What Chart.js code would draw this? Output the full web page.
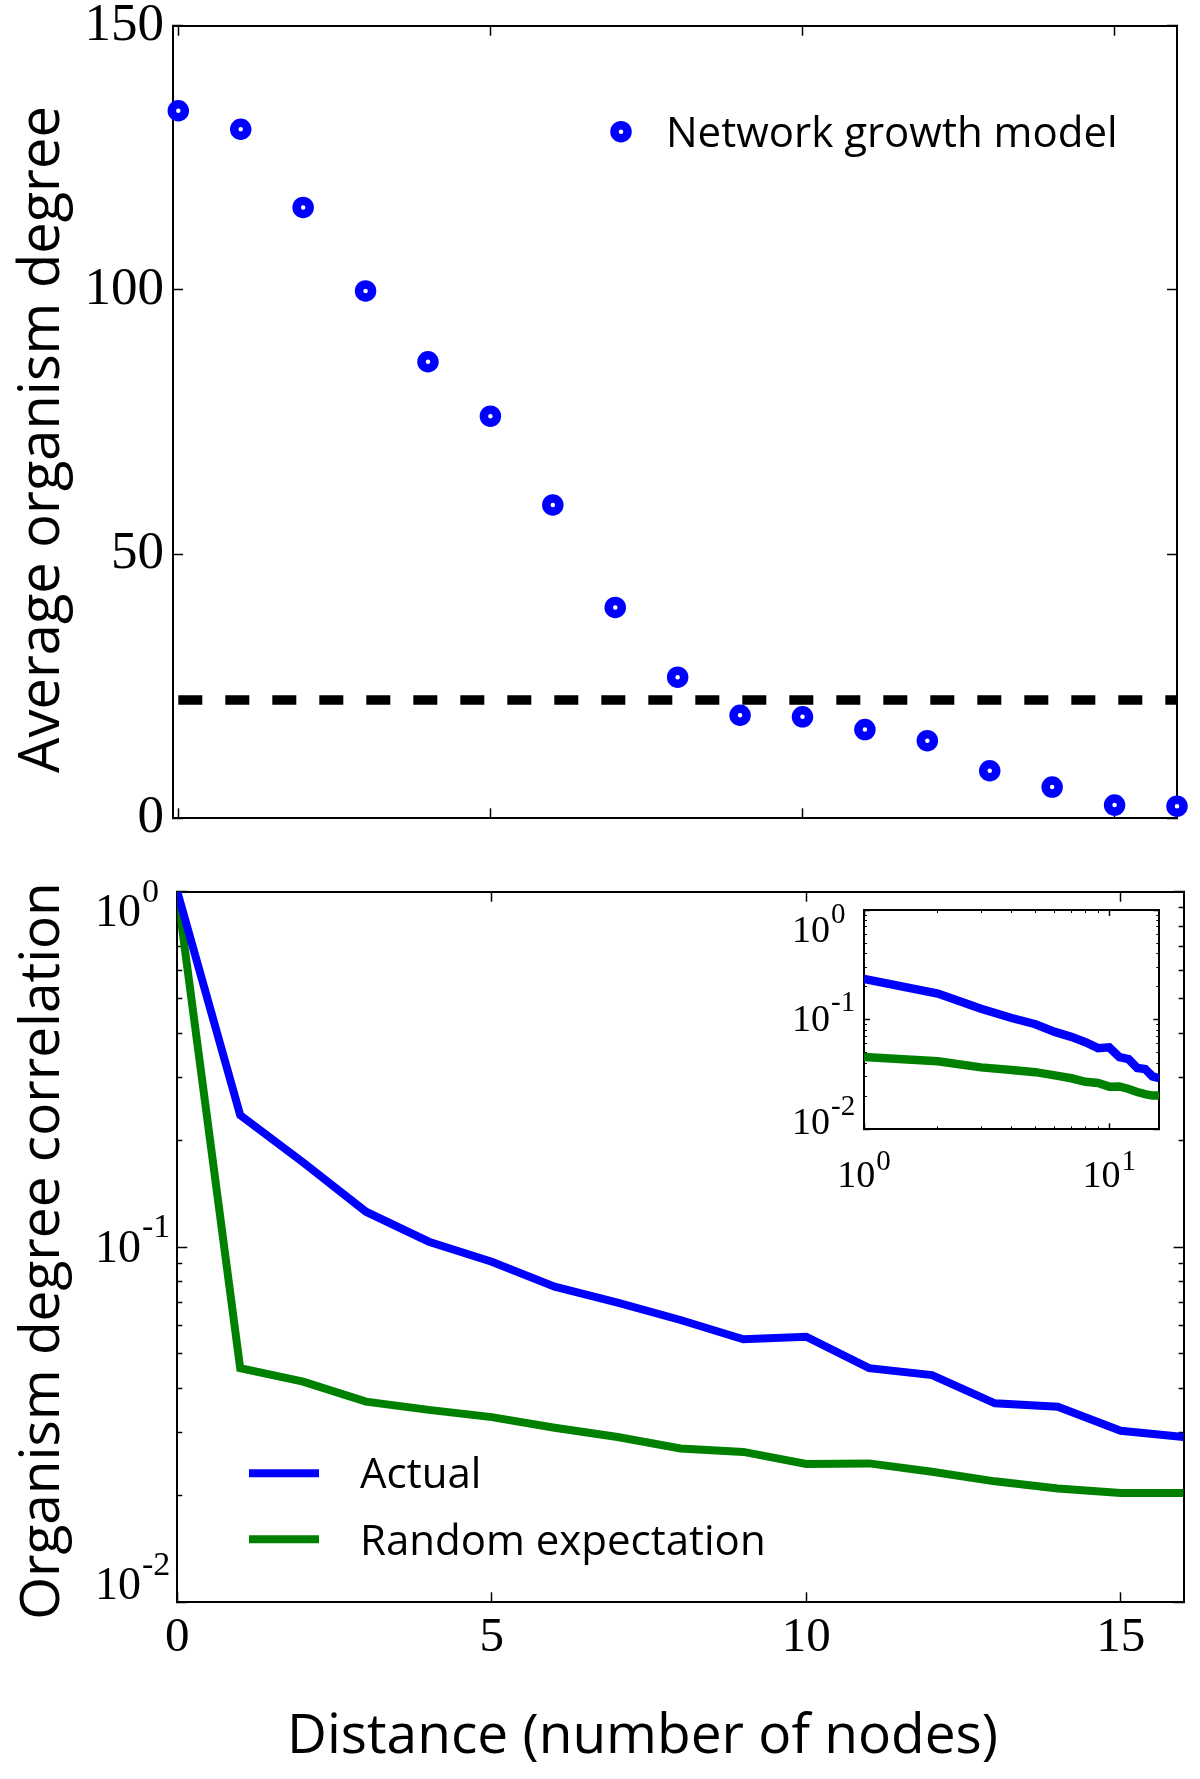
<!DOCTYPE html>
<html>
<head>
<meta charset="utf-8">
<script src="https://cdn.jsdelivr.net/npm/chart.js@4.4.1/dist/chart.umd.min.js"></script>
<style>
html, body { margin: 0; padding: 0; background: #fff; }
#wrap { position: relative; width: 1200px; height: 1779px; overflow: hidden; background: #fff; }
canvas { position: absolute; }
</style>
</head>
<body>
<div id="wrap">
  <canvas id="topChart" width="1200" height="850" style="left:0px;top:0px;width:1200px;height:850px"></canvas>
  <canvas id="bottomChart" width="1200" height="929" style="left:0px;top:850px;width:1200px;height:929px"></canvas>
  <canvas id="insetChart" width="400" height="320" style="left:780px;top:880px;width:400px;height:320px"></canvas>
</div>
<script>
// ---------------- DATA ----------------
const distance = [0, 1, 2, 3, 4, 5, 6, 7, 8, 9, 10, 11, 12, 13, 14, 15, 16];
const avgDegree = [133.9, 130.4, 115.6, 99.8, 86.4, 76.1, 59.3, 39.9, 26.7, 19.5, 19.2, 16.8, 14.7, 9.0, 5.9, 2.5, 2.3];
const baselineX = [0, 16];
const baselineDegree = [22.4, 22.4];
const actualCorr = [1, 0.235, 0.173, 0.1257, 0.1035, 0.0909, 0.0773, 0.0697, 0.0623, 0.0550, 0.0559, 0.0456, 0.0436, 0.0363, 0.0355, 0.0304, 0.0292];
const randomCorr = [1, 0.0456, 0.0418, 0.0367, 0.0348, 0.0332, 0.0310, 0.0292, 0.0271, 0.0265, 0.0245, 0.0246, 0.0233, 0.0219, 0.0209, 0.0203, 0.0203];

const degreeTicks = [0, 50, 100, 150];
const distanceTicks = [0, 5, 10, 15];
const corrMajorTicks = [0.01, 0.1, 1];
const corrExponents = ['-2', '-1', '0'];
const corrMinorTicks = [0.02, 0.03, 0.04, 0.05, 0.06, 0.07, 0.08, 0.09, 0.2, 0.3, 0.4, 0.5, 0.6, 0.7, 0.8, 0.9];
const insetDistanceTicks = [1, 10];
const insetDistanceExponents = ['0', '1'];
const insetDistanceMinorTicks = [2, 3, 4, 5, 6, 7, 8, 9];

const labelTop = 'Network growth model';
const labelActual = 'Actual';
const labelRandom = 'Random expectation';
const titleTopY = 'Average organism degree';
const titleBottomY = 'Organism degree correlation';
const titleX = 'Distance (number of nodes)';

// ---------------- HELPERS ----------------
const BLUE = '#0000ff';
const GREEN = '#008000';
const SERIF = "'Liberation Serif', 'Times New Roman', serif";
const SANS = "'Open Sans', 'Noto Sans', sans-serif";

function tickScale(o) {
  return {
    type: o.type || 'linear',
    axis: o.axis,
    position: o.position,
    min: o.min, max: o.max,
    weight: o.weight || 0,
    border: { display: o.border !== false, color: '#000', width: o.borderWidth || 2 },
    grid: { display: true, drawOnChartArea: false, drawTicks: true, tickLength: -o.len, tickColor: '#000', tickWidth: o.tickWidth || 1.5 },
    ticks: {
      display: !!o.font, font: o.font, color: '#000', padding: o.padding || 0,
      maxRotation: 0, minRotation: 0, autoSkip: false
    },
    afterBuildTicks: (sc) => { sc.ticks = o.values.map(v => ({ value: v })); },
    afterFit: (sc) => { if (sc.isHorizontal()) sc.height = o.size; else sc.width = o.size; }
  };
}

function makeTextPlugin(id, drawFn) {
  return { id: id, afterDraw(chart) { const ctx = chart.ctx; ctx.save(); drawFn(chart, ctx); ctx.restore(); } };
}

function drawPower(ctx, xBaseRight, yBase, exp, baseSize, supSize, supDy) {
  ctx.fillStyle = '#000';
  ctx.textBaseline = 'middle';
  ctx.font = baseSize + 'px ' + SERIF;
  ctx.textAlign = 'right';
  ctx.fillText('10', xBaseRight, yBase);
  ctx.font = supSize + 'px ' + SERIF;
  ctx.textAlign = 'left';
  ctx.fillText(exp, xBaseRight + 1, yBase + supDy);
}

// ---------------- TOP CHART ----------------
const topTexts = makeTextPlugin('topTexts', (chart, ctx) => {
  ctx.fillStyle = '#000';
  ctx.font = '56px ' + SANS;
  ctx.textAlign = 'center';
  ctx.textBaseline = 'alphabetic';
  ctx.save();
  ctx.translate(59, 439.5);
  ctx.rotate(-Math.PI / 2);
  ctx.fillText(titleTopY, 0, 0);
  ctx.restore();
  const ds = chart.data.datasets[0];
  ctx.beginPath();
  ctx.arc(621, 131.7, ds.pointRadius, 0, Math.PI * 2);
  ctx.fillStyle = ds.pointBackgroundColor;
  ctx.fill();
  ctx.lineWidth = ds.pointBorderWidth;
  ctx.strokeStyle = ds.pointBorderColor;
  ctx.stroke();
  ctx.fillStyle = '#000';
  ctx.font = '42px ' + SANS;
  ctx.textAlign = 'left';
  ctx.textBaseline = 'alphabetic';
  ctx.fillText(ds.label, 666, 146.7);
});

new Chart(document.getElementById('topChart'), {
  type: 'scatter',
  data: {
    datasets: [
      {
        label: labelTop,
        data: distance.map((d, i) => ({ x: d, y: avgDegree[i] })),
        showLine: false,
        pointRadius: 6.5,
        pointHoverRadius: 6.5,
        pointBorderWidth: 8.5,
        pointBorderColor: BLUE,
        pointBackgroundColor: '#ffffff',
        clip: false
      },
      {
        label: 'baseline',
        data: baselineX.map((d, i) => ({ x: d, y: baselineDegree[i] })),
        showLine: true,
        borderColor: '#000',
        borderWidth: 9.5,
        borderDash: [24, 23],
        borderCapStyle: 'butt',
        pointRadius: 0,
        clip: false
      }
    ]
  },
  options: {
    responsive: false,
    animation: false,
    devicePixelRatio: 1,
    layout: { padding: 0 },
    plugins: { legend: { display: false }, tooltip: { enabled: false } },
    scales: {
      x: tickScale({ axis: 'x', position: 'bottom', min: -0.085, max: 16, values: distanceTicks, size: 31.7, len: 10 }),
      x2: tickScale({ axis: 'x', position: 'top', min: -0.085, max: 16, values: distanceTicks, size: 25.7, len: 10 }),
      y: tickScale({ axis: 'y', position: 'left', min: 0, max: 150, values: degreeTicks, size: 173, len: 10,
                     font: { family: SERIF, size: 53, lineHeight: 0.1 }, padding: 19 }),
      y2: tickScale({ axis: 'y', position: 'right', min: 0, max: 150, values: degreeTicks, size: 23, len: 10 })
    }
  },
  plugins: [topTexts]
});

// ---------------- BOTTOM CHART ----------------
const bottomTexts = makeTextPlugin('bottomTexts', (chart, ctx) => {
  ctx.fillStyle = '#000';
  ctx.font = '55px ' + SANS;
  ctx.textAlign = 'center';
  ctx.textBaseline = 'alphabetic';
  ctx.save();
  ctx.translate(59, 401);
  ctx.rotate(-Math.PI / 2);
  ctx.fillText(titleBottomY, 0, 0);
  ctx.restore();
  ctx.fillText(titleX, 642.5, 903.3);

  const ys = chart.scales.y;
  corrMajorTicks.forEach((v, i) => {
    const p = ys.getPixelForValue(v);
    let dy = 2.5;
    if (v === ys.max) dy = 22;
    else if (v === ys.min) dy = -15;
    drawPower(ctx, 141, p + dy, corrExponents[i], 46, 34, -21);
  });

  const items = [
    { ds: chart.data.datasets[0], lineY: 623.3, textY: 638.3 },
    { ds: chart.data.datasets[1], lineY: 689.3, textY: 705 }
  ];
  items.forEach(it => {
    ctx.beginPath();
    ctx.moveTo(249, it.lineY);
    ctx.lineTo(319, it.lineY);
    ctx.strokeStyle = it.ds.borderColor;
    ctx.lineWidth = 8;
    ctx.lineCap = 'butt';
    ctx.stroke();
    ctx.fillStyle = '#000';
    ctx.font = '42px ' + SANS;
    ctx.textAlign = 'left';
    ctx.textBaseline = 'alphabetic';
    ctx.fillText(it.ds.label, 360, it.textY);
  });
});

new Chart(document.getElementById('bottomChart'), {
  type: 'line',
  data: {
    datasets: [
      { label: labelActual, data: distance.map((d, i) => ({ x: d, y: actualCorr[i] })),
        borderColor: BLUE, backgroundColor: BLUE, borderWidth: 8, pointRadius: 0, clip: 0, tension: 0 },
      { label: labelRandom, data: distance.map((d, i) => ({ x: d, y: randomCorr[i] })),
        borderColor: GREEN, backgroundColor: GREEN, borderWidth: 8, pointRadius: 0, clip: 0, tension: 0 }
    ]
  },
  options: {
    responsive: false,
    animation: false,
    devicePixelRatio: 1,
    layout: { padding: 0 },
    plugins: { legend: { display: false }, tooltip: { enabled: false } },
    scales: {
      x: tickScale({ axis: 'x', position: 'bottom', min: 0, max: 16, values: distanceTicks, size: 176.7, len: 10,
                     font: { family: SERIF, size: 49 }, padding: 16 }),
      x2: tickScale({ axis: 'x', position: 'top', min: 0, max: 16, values: distanceTicks, size: 41.7, len: 10 }),
      y: tickScale({ axis: 'y', type: 'logarithmic', position: 'left', min: 0.01, max: 1, values: corrMajorTicks, size: 177.3, len: 10, weight: 1 }),
      yMinor: tickScale({ axis: 'y', type: 'logarithmic', position: 'left', min: 0.01, max: 1, values: corrMinorTicks, size: 0, len: 5, weight: 0, border: false }),
      y2: tickScale({ axis: 'y', type: 'logarithmic', position: 'right', min: 0.01, max: 1, values: corrMajorTicks, size: 16.4, len: 10, weight: 1 }),
      y2Minor: tickScale({ axis: 'y', type: 'logarithmic', position: 'right', min: 0.01, max: 1, values: corrMinorTicks, size: 0, len: 5, weight: 0, border: false })
    }
  },
  plugins: [bottomTexts]
});

// ---------------- INSET CHART ----------------
const insetTexts = {
  id: 'insetTexts',
  beforeDraw(chart) {
    const ctx = chart.ctx, a = chart.chartArea;
    ctx.save();
    ctx.fillStyle = '#fff';
    ctx.fillRect(a.left, a.top, a.right - a.left, a.bottom - a.top);
    ctx.restore();
  },
  afterDraw(chart) {
    const ctx = chart.ctx;
    ctx.save();
    const ys = chart.scales.y;
    corrMajorTicks.forEach((v, i) => {
      const p = ys.getPixelForValue(v);
      let dy = 1;
      if (v === ys.max) dy = 22;
      else if (v === ys.min) dy = -5;
      drawPower(ctx, 50, p + dy, corrExponents[i], 38, 29, -17);
    });
    const xs = chart.scales.x;
    insetDistanceTicks.forEach((v, i) => {
      const p = xs.getPixelForValue(v);
      ctx.font = '38px ' + SERIF;
      const wb = ctx.measureText('10').width;
      ctx.font = '29px ' + SERIF;
      const ws = ctx.measureText(insetDistanceExponents[i]).width;
      const left = p - (wb + ws + 1) / 2;
      drawPower(ctx, left + wb, 297, insetDistanceExponents[i], 38, 29, -15);
    });
    ctx.restore();
  }
};

new Chart(document.getElementById('insetChart'), {
  type: 'line',
  data: {
    datasets: [
      { label: labelActual, data: distance.slice(1).map((d, i) => ({ x: d, y: actualCorr[i + 1] })),
        borderColor: BLUE, borderWidth: 8.5, pointRadius: 0, clip: 0, tension: 0 },
      { label: labelRandom, data: distance.slice(1).map((d, i) => ({ x: d, y: randomCorr[i + 1] })),
        borderColor: GREEN, borderWidth: 8.5, pointRadius: 0, clip: 0, tension: 0 }
    ]
  },
  options: {
    responsive: false,
    animation: false,
    devicePixelRatio: 1,
    layout: { padding: 0 },
    plugins: { legend: { display: false }, tooltip: { enabled: false } },
    scales: {
      x: tickScale({ axis: 'x', type: 'logarithmic', position: 'bottom', min: 1, max: 16, values: insetDistanceTicks, size: 70.7, len: 6, weight: 1 }),
      xMinor: tickScale({ axis: 'x', type: 'logarithmic', position: 'bottom', min: 1, max: 16, values: insetDistanceMinorTicks, size: 0, len: 3, weight: 0, border: false, tickWidth: 1 }),
      x2: tickScale({ axis: 'x', type: 'logarithmic', position: 'top', min: 1, max: 16, values: insetDistanceTicks, size: 30, len: 6, weight: 1 }),
      x2Minor: tickScale({ axis: 'x', type: 'logarithmic', position: 'top', min: 1, max: 16, values: insetDistanceMinorTicks, size: 0, len: 3, weight: 0, border: false, tickWidth: 1 }),
      y: tickScale({ axis: 'y', type: 'logarithmic', position: 'left', min: 0.01, max: 1, values: corrMajorTicks, size: 84, len: 6, weight: 1 }),
      yMinor: tickScale({ axis: 'y', type: 'logarithmic', position: 'left', min: 0.01, max: 1, values: corrMinorTicks, size: 0, len: 3, weight: 0, border: false, tickWidth: 1 }),
      y2: tickScale({ axis: 'y', type: 'logarithmic', position: 'right', min: 0.01, max: 1, values: corrMajorTicks, size: 20.7, len: 6, weight: 1 }),
      y2Minor: tickScale({ axis: 'y', type: 'logarithmic', position: 'right', min: 0.01, max: 1, values: corrMinorTicks, size: 0, len: 3, weight: 0, border: false, tickWidth: 1 })
    }
  },
  plugins: [insetTexts]
});
</script>
</body>
</html>
